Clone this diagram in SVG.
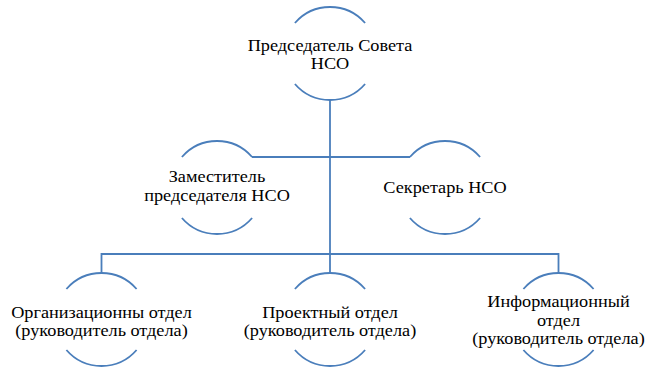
<svg xmlns="http://www.w3.org/2000/svg" xmlns:xlink="http://www.w3.org/1999/xlink" width="650" height="367" viewBox="0 0 650 367">
<style>
  .arc { fill: none; stroke: #4A7EBB; stroke-width: 1.8; }
  .conn { fill: none; stroke: #4A7EBB; stroke-width: 1.8; }
  .lbl { font-family: "Liberation Serif", "DejaVu Serif", serif; font-size: 16px; fill: #000; text-anchor: middle; }
</style>
<defs>
  <path id="ring" class="arc" d="M -35.1 -30.5 A 46.5 46.5 0 0 1 35.1 -30.5 M -35.1 30.5 A 46.5 46.5 0 0 0 35.1 30.5"/>
</defs>
<rect width="650" height="367" fill="#fff"/>
<g id="connectors">
  <path class="conn" d="M 330 100 V 254"/>
  <path class="conn" d="M 252 157 H 410"/>
  <path class="conn" d="M 101.5 273 V 254 H 558.5 V 273"/>
  <path class="conn" d="M 330 254 V 273"/>
</g>
<g id="n-chair" transform="translate(330,53.5)">
  <use xlink:href="#ring"/>
  <g transform="scale(1.14,1)">
    <text class="lbl" y="-2.7">Председатель Совета</text>
    <text class="lbl" y="15.8">НСО</text>
  </g>
</g>
<g id="n-deputy" transform="translate(217,187.5)">
  <use xlink:href="#ring"/>
  <g transform="scale(1.14,1)">
    <text class="lbl" y="-5.25">Заместитель</text>
    <text class="lbl" y="13.25">председателя НСО</text>
  </g>
</g>
<g id="n-secretary" transform="translate(445,187.5)">
  <use xlink:href="#ring"/>
  <g transform="scale(1.14,1)">
    <text class="lbl" y="5.5">Секретарь НСО</text>
  </g>
</g>
<g id="n-org" transform="translate(101.5,319.5)">
  <use xlink:href="#ring"/>
  <g transform="scale(1.14,1)">
    <text class="lbl" y="-1.5">Организационны отдел</text>
    <text class="lbl" y="17">(руководитель отдела)</text>
  </g>
</g>
<g id="n-project" transform="translate(330,319.5)">
  <use xlink:href="#ring"/>
  <g transform="scale(1.14,1)">
    <text class="lbl" y="-1.5">Проектный отдел</text>
    <text class="lbl" y="17">(руководитель отдела)</text>
  </g>
</g>
<g id="n-info" transform="translate(558.5,319.5)">
  <use xlink:href="#ring"/>
  <g transform="scale(1.14,1)">
    <text class="lbl" y="-12.5">Информационный</text>
    <text class="lbl" y="6">отдел</text>
    <text class="lbl" y="24.5">(руководитель отдела)</text>
  </g>
</g>
</svg>
